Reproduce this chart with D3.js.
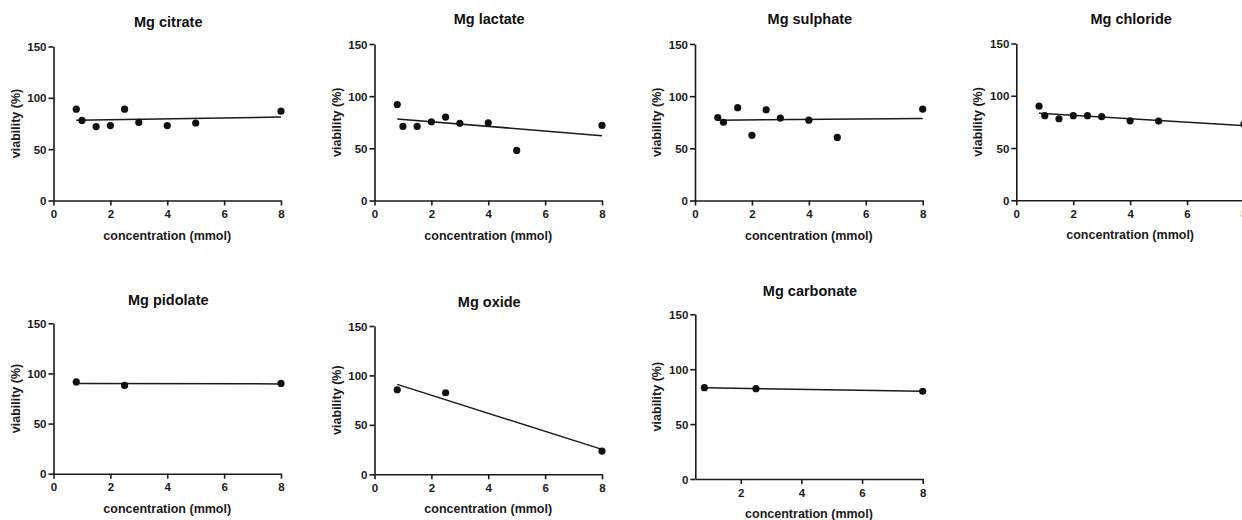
<!DOCTYPE html>
<html lang="en">
<head>
<meta charset="UTF-8">
<script src="https://d3js.org/d3.v7.min.js"></script>
<style>
  html, body { margin: 0; padding: 0; background: #fff; overflow: hidden; }
  svg { display: block; font-family: "Liberation Sans", Arial, sans-serif; }
  .axis path, .axis line { stroke: #1a1a1a; stroke-width: 1.6px; }
  .axis text { font-family: "Liberation Sans", Arial, sans-serif; font-size: 11.5px; font-weight: bold; fill: #1a1a1a; }
</style>
</head>
<body>
<div id="chart"></div>
<script>
// concentrations (mmol) used in the experiments
var concFull = [0.8, 1, 1.5, 2, 2.5, 3, 4, 5, 8];
var concShort = [0.8, 2.5, 8];

// viability (%)
var citrate   = [89, 78, 72, 73, 89, 76, 73, 75.5, 87];
var lactate   = [92, 71, 71, 75.5, 80, 74, 74.5, 48, 72];
var sulphate  = [79.5, 75, 89, 62.5, 87, 79, 77, 60.5, 87.5];
var chloride  = [90, 81, 78, 81, 81, 80, 76, 75.8, 73];
var pidolate  = [91.5, 88, 90];
var oxide     = [85.5, 82.5, 23.5];
var carbonate = [83.2, 82.3, 79.9];

var titles = ["Mg citrate", "Mg lactate", "Mg sulphate", "Mg chloride",
              "Mg pidolate", "Mg oxide", "Mg carbonate"];
var yTicks = [0, 50, 100, 150];
var xTicks = [0, 2, 4, 6, 8];
var xTicksCarb = [2, 4, 6, 8];

var W = 1242, H = 520;
var svg = d3.select("#chart").append("svg").attr("width", W).attr("height", H);

// plot boxes (left, right, top, bottom) and title centre
var panels = [
  {conc: concFull,  vals: citrate,   box: [53.5, 281, 46.5, 200.5],  ty: 22,  xd: [0, 8],   xt: xTicks},
  {conc: concFull,  vals: lactate,   box: [374.5, 602, 44, 200.5],   ty: 18.5, xd: [0, 8],  xt: xTicks},
  {conc: concFull,  vals: sulphate,  box: [695, 922.7, 44, 200.5],   ty: 18.5, xd: [0, 8],  xt: xTicks},
  {conc: concFull,  vals: chloride,  box: [1016.3, 1244, 43.5, 200.3], ty: 18.5, xd: [0, 8], xt: xTicks},
  {conc: concShort, vals: pidolate,  box: [53.5, 281, 323.3, 473.7], ty: 300, xd: [0, 8],   xt: xTicks},
  {conc: concShort, vals: oxide,     box: [374.5, 602, 326, 474.3],  ty: 302, xd: [0, 8],   xt: xTicks},
  {conc: concShort, vals: carbonate, box: [695.3, 922.7, 314.3, 479], ty: 290.7, xd: [0.5, 8], xt: xTicksCarb}
];

// least squares fit
function fit(xs, ys) {
  var mx = d3.mean(xs), my = d3.mean(ys);
  var sxy = d3.sum(xs, function (x, i) { return (x - mx) * (ys[i] - my); });
  var sxx = d3.sum(xs, function (x) { return (x - mx) * (x - mx); });
  var b = sxy / sxx;
  return function (x) { return my + b * (x - mx); };
}

panels.forEach(function (p, k) {
  var b = p.box;
  var x = d3.scaleLinear().domain(p.xd).range([b[0], b[1]]);
  var y = d3.scaleLinear().domain([0, 150]).range([b[3], b[2]]);
  var g = svg.append("g");

  // title
  g.append("text")
    .attr("x", (b[0] + b[1]) / 2 + 1)
    .attr("y", p.ty)
    .attr("text-anchor", "middle")
    .attr("dominant-baseline", "central")
    .style("font-size", "14.5px")
    .style("font-weight", "bold")
    .style("fill", "#111")
    .text(titles[k]);

  // axes
  g.append("g").attr("class", "axis")
    .attr("transform", "translate(0," + b[3] + ")")
    .call(d3.axisBottom(x).tickValues(p.xt).tickSize(5).tickSizeOuter(0).tickPadding(4))
    .selectAll("text").attr("dy", "0.75em");

  g.append("g").attr("class", "axis")
    .attr("transform", "translate(" + b[0] + ",0)")
    .call(d3.axisLeft(y).tickValues(yTicks).tickSize(5).tickSizeOuter(0).tickPadding(2))
    .selectAll("text").attr("dy", "0.35em");

  // axis titles
  g.append("text")
    .attr("x", (b[0] + b[1]) / 2)
    .attr("y", b[3] + 35)
    .attr("text-anchor", "middle")
    .attr("dominant-baseline", "central")
    .style("font-size", "12.5px")
    .style("font-weight", "bold")
    .style("fill", "#1a1a1a")
    .text("concentration (mmol)");

  g.append("text")
    .attr("transform", "translate(" + (b[0] - 38) + "," + ((b[2] + b[3]) / 2) + ") rotate(-90)")
    .attr("text-anchor", "middle")
    .attr("dominant-baseline", "central")
    .style("font-size", "12.5px")
    .style("font-weight", "bold")
    .style("fill", "#1a1a1a")
    .text("viability (%)");

  // regression line
  var f = fit(p.conc, p.vals);
  var x0 = d3.min(p.conc), x1 = d3.max(p.conc);
  g.append("line")
    .attr("x1", x(x0)).attr("y1", y(f(x0)))
    .attr("x2", x(x1)).attr("y2", y(f(x1)))
    .style("stroke", "#1a1a1a")
    .style("stroke-width", 1.5);

  // points
  g.selectAll("circle")
    .data(p.conc.map(function (c, i) { return [c, p.vals[i]]; }))
    .enter().append("circle")
    .attr("cx", function (d) { return x(d[0]); })
    .attr("cy", function (d) { return y(d[1]); })
    .attr("r", 3.6)
    .style("fill", "#111");
});
</script>
</body>
</html>
